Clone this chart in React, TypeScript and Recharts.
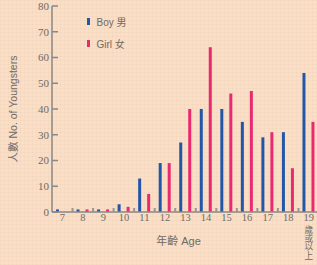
import React from "react";
import { BarChart, Bar, XAxis, YAxis, Legend } from "recharts";

const categories = ["7", "8", "9", "10", "11", "12", "13", "14", "15", "16", "17", "18", "19"];
const boys = [1, 1, 1, 3, 13, 19, 27, 40, 40, 35, 29, 31, 54];
const girls = [0, 1, 1, 2, 7, 19, 40, 64, 46, 47, 31, 17, 35];
const yTicks = [0, 10, 20, 30, 40, 50, 60, 70, 80];
const lastSubLabel = "歲或以上";
const seriesNames = { boy: "Boy 男", girl: "Girl 女" };
const yLabel = "人數 No. of Youngsters";
const xLabel = "年齡 Age";

const data = categories.map((c, i) => ({ age: c, boy: boys[i], girl: girls[i] }));

const CHART_W = 319;
const CHART_H = 265;
const Y_W = 52;
const X_H = 53;
const BAND = (CHART_W - Y_W) / categories.length;

const BLUE = "#2356a6";
const PINK = "#ea2a70";
const AXIS = "#8c8784";
const TEXT = "#6f6a66";
const SERIF = "'Liberation Serif', 'DejaVu Serif', serif";
const SANS = "'Liberation Sans', 'Noto Sans CJK TC', sans-serif";

const XTick = (props: any) => {
  const { x, y, payload, index } = props;
  const isLast = index === categories.length - 1;
  const axisY = y - 2;
  return (
    <g>
      {!isLast && (
        <line x1={x + BAND / 2} x2={x + BAND / 2} y1={axisY} y2={axisY - 4} stroke="#9a9590" strokeWidth={2} />
      )}
      <text x={x} y={y} dy="0.71em" textAnchor="middle" fill={TEXT} fontFamily={SERIF} fontSize={10.5}>
        {payload.value}
      </text>
      {isLast &&
        lastSubLabel.split("").map((ch, i) => (
          <text key={i} x={x} y={y + 12 + i * 8.8} dy="0.8em" textAnchor="middle" fill={TEXT} fontFamily={SANS} fontSize={8.6}>
            {ch}
          </text>
        ))}
    </g>
  );
};

const LegendContent = () => (
  <div style={{ fontFamily: SANS, fontSize: 10, color: TEXT }}>
    {[
      { name: seriesNames.boy, color: BLUE },
      { name: seriesNames.girl, color: PINK },
    ].map((it) => (
      <div key={it.name} style={{ display: "flex", alignItems: "center", height: 22 }}>
        <span style={{ display: "inline-block", width: 2.5, height: 7, background: it.color, marginRight: 7 }} />
        <span>{it.name}</span>
      </div>
    ))}
  </div>
);

export default function App() {
  return (
    <div
      style={{
        position: "absolute",
        left: 0,
        top: 0,
        width: 317,
        height: 265,
        overflow: "hidden",
        backgroundColor: "#f8dfc5",
        backgroundImage:
          "repeating-linear-gradient(0deg, rgba(225,170,160,0.09) 0 1px, transparent 1px 4px), repeating-linear-gradient(90deg, rgba(225,170,160,0.09) 0 1px, transparent 1px 4px)",
      }}
    >
      <BarChart
        width={CHART_W}
        height={CHART_H}
        data={data}
        margin={{ top: 6, right: 0, bottom: 0, left: 0 }}
        barSize={3}
        barGap={6}
      >
        <XAxis
          dataKey="age"
          height={X_H}
          tickLine={false}
          tickSize={0}
          tickMargin={2}
          axisLine={{ stroke: AXIS, strokeWidth: 1.5 }}
          tick={<XTick />}
          interval={0}
          label={{
            content: ({ viewBox }: any) => (
              <text
                x={viewBox.x + viewBox.width / 2 - 7}
                y={viewBox.y + 29}
                dy="0.35em"
                textAnchor="middle"
                fill={TEXT}
                fontFamily={SANS}
                fontSize={11}
              >
                {xLabel}
              </text>
            ),
          }}
        />
        <YAxis
          width={Y_W}
          domain={[0, 80]}
          ticks={yTicks}
          tickSize={-6}
          tickMargin={9}
          interval={0}
          axisLine={{ stroke: AXIS, strokeWidth: 1.5 }}
          tickLine={{ stroke: AXIS, strokeWidth: 1.5 }}
          tick={{ fill: TEXT, fontFamily: SERIF, fontSize: 11 }}
          label={{
            content: ({ viewBox }: any) => (
              <text
                x={viewBox.x + 13}
                y={viewBox.y + viewBox.height / 2}
                dy="0.35em"
                textAnchor="middle"
                transform={`rotate(-90 ${viewBox.x + 13} ${viewBox.y + viewBox.height / 2})`}
                fill={TEXT}
                fontFamily={SANS}
                fontSize={10.5}
              >
                {yLabel}
              </text>
            ),
          }}
        />
        <Legend
          content={<LegendContent />}
          layout="vertical"
          verticalAlign="middle"
          align="center"
          wrapperStyle={{ position: "absolute", left: 87, top: 10, width: 80 }}
        />
        <Bar dataKey="boy" name={seriesNames.boy} fill={BLUE} isAnimationActive={false} />
        <Bar dataKey="girl" name={seriesNames.girl} fill={PINK} isAnimationActive={false} />
      </BarChart>
    </div>
  );
}
